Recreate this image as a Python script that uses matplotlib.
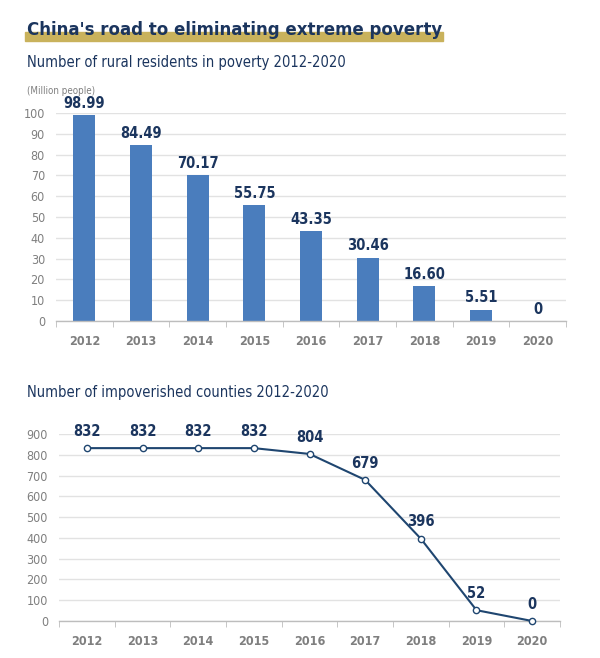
import numpy as np
import matplotlib
matplotlib.use('Agg')
from matplotlib import pyplot as plt

years = ['2012', '2013', '2014', '2015', '2016', '2017', '2018', '2019', '2020']
residents = [98.99, 84.49, 70.17, 55.75, 43.35, 30.46, 16.60, 5.51, 0]
resident_labels = ['98.99', '84.49', '70.17', '55.75', '43.35', '30.46', '16.60', '5.51', '0']
counties = [832, 832, 832, 832, 804, 679, 396, 52, 0]

NAVY = '#1b355e'
BLUE = '#4a7dbd'
LINE = '#1f4670'
GRAY = '#7f7f7f'
GRID = '#e2e2e2'
BASE = '#bdbdbd'
GOLD = '#c9b25c'

plt.rcParams['font.family'] = ['DejaVu Sans']
plt.rcParams['font.stretch'] = 'condensed'


def style_axis(ax, yticks):
    x = np.arange(len(years))
    ax.set_xlim(-0.5, len(years) - 0.5)
    ax.set_xticks(x)
    ax.set_xticklabels(years, fontsize=9, fontweight='bold', color=GRAY)
    ax.set_xticks(np.arange(-0.5, len(years)), minor=True)
    ax.tick_params(axis='x', which='major', length=0, pad=10)
    ax.tick_params(axis='x', which='minor', length=4, color=BASE, direction='out')
    ax.set_yticks(yticks)
    ax.tick_params(axis='y', length=0, pad=8, labelsize=9, labelcolor=GRAY)
    for s in ['top', 'right', 'left']:
        ax.spines[s].set_visible(False)
    ax.spines['bottom'].set_color(BASE)
    ax.spines['bottom'].set_linewidth(1.0)
    ax.grid(axis='y', color=GRID, linewidth=1.0)
    ax.set_axisbelow(True)
    return x


fig = plt.figure(figsize=(6, 6.58), dpi=100)

# title with gold underline
fig.patches.append(plt.Rectangle((25 / 600, 1 - 41 / 658), 418 / 600, 9 / 658,
                                 transform=fig.transFigure, color=GOLD, zorder=0))
fig.text(27 / 600, 1 - 35 / 658, "China's road to eliminating extreme poverty",
         fontsize=13.3, fontweight='bold', color=NAVY, va='baseline', zorder=2)
fig.text(27 / 600, 1 - 62 / 658, 'Number of rural residents in poverty 2012-2020',
         fontsize=10.5, color=NAVY, va='center')
fig.text(27 / 600, 1 - 91 / 658, '(Million people)', fontsize=7, color=GRAY, va='center')
fig.text(27 / 600, 1 - 393 / 658, 'Number of impoverished counties 2012-2020',
         fontsize=10.5, color=NAVY, va='center')

# bar chart
ax1 = fig.add_axes([56 / 600, 1 - 321 / 658, 510 / 600, 208 / 658])
x = style_axis(ax1, np.arange(0, 101, 10))
ax1.set_ylim(0, 100)
ax1.bar(x, residents, width=0.39, color=BLUE, zorder=2)
for xi, v, lab in zip(x, residents, resident_labels):
    ax1.text(xi, v + 2, lab, ha='center', va='bottom', fontsize=10.5,
             fontweight='bold', color=NAVY, clip_on=False)

# line chart
ax2 = fig.add_axes([59 / 600, 1 - 621 / 658, 501 / 600, 187 / 658])
x = style_axis(ax2, np.arange(0, 901, 100))
ax2.set_ylim(0, 900)
ax2.plot(x, counties, color=LINE, linewidth=1.5, marker='o', markersize=4.5,
         markerfacecolor='white', markeredgecolor=LINE, markeredgewidth=1.0,
         zorder=3, clip_on=False)
for xi, v in zip(x, counties):
    ax2.text(xi, v + 45, str(v), ha='center', va='bottom', fontsize=10.5,
             fontweight='bold', color=NAVY, clip_on=False)

fig.savefig('out.png', dpi=100)
